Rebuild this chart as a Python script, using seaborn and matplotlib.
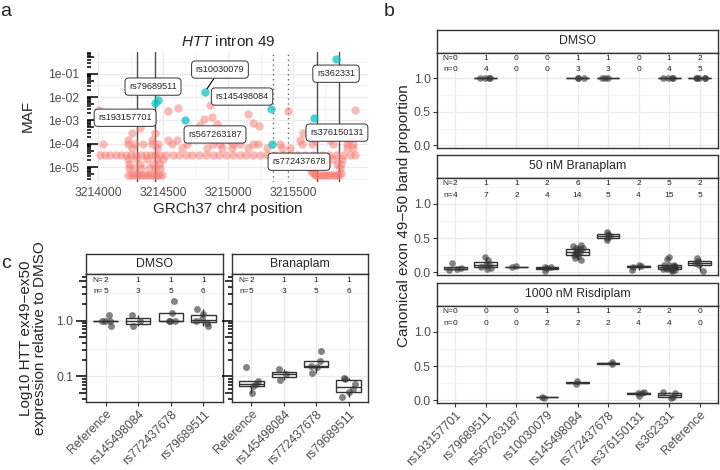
import numpy as np
import pandas as pd
import seaborn as sns
import matplotlib.pyplot as plt
from matplotlib.ticker import FixedLocator, NullFormatter
from matplotlib.transforms import offset_copy

sns.set_style("white")
plt.rcParams["font.family"] = ["Liberation Sans", "DejaVu Sans"]
plt.rcParams["mathtext.fontset"] = "custom"
plt.rcParams["mathtext.it"] = "Liberation Sans:italic"
plt.rcParams["mathtext.rm"] = "Liberation Sans"
np.random.seed(7)

# ---------------- panel a: intron 49 variants ----------------
maf_levels = [4.4e-6, 9e-6, 1.4e-5, 2.2e-5, 3.4e-5, 6.5e-5, 1e-4, 1.5e-4, 2.9e-4]
row_pos = [
    [3214230, 3214252, 3214274, 3214296, 3214318, 3214340, 3214362, 3214384, 3214406, 3214428,
     3214450, 3214472, 3214494, 3215680, 3215700, 3215720, 3215740, 3215760, 3215780, 3215800,
     3215820, 3215840],
    [3214240, 3214280, 3214330, 3214390, 3214440, 3214480, 3215645, 3215860],
    [3214235, 3214320, 3214420, 3214470, 3215700, 3215765, 3215835, 3215872],
    [3214232, 3214290, 3214380, 3214455, 3214500, 3215655, 3215740, 3215810, 3215880],
    [3214015, 3214055, 3214095, 3214135, 3214175, 3214215, 3214250, 3214290, 3214330, 3214370,
     3214405, 3214440, 3214475, 3214525, 3214575, 3214625, 3214680, 3214720, 3214775, 3214830,
     3214885, 3214930, 3214985, 3215040, 3215090, 3215140, 3215190, 3215245, 3215300, 3215360,
     3215420, 3215475, 3215530, 3215590, 3215650, 3215720, 3215780, 3215830, 3215885, 3215935,
     3215975],
    [3214259, 3214451, 3214644, 3214836, 3214951, 3215028, 3215156, 3215297, 3215413, 3215477,
     3215913, 3215964],
    [3214041, 3214233, 3214285, 3214349, 3214413, 3214464, 3214567, 3214682, 3214887, 3214938,
     3215041, 3215092, 3215195, 3215233, 3215400, 3215567, 3215644, 3215810, 3215913, 3215964],
    [3214233, 3214413, 3214541, 3214605, 3215010, 3215554, 3215669, 3215785, 3215930],
    [3214260, 3214440, 3215580, 3215880],
]
extra_pos = [3215635, 3215655, 3215672, 3215852, 3215866, 3214010, 3214015, 3214182, 3214325,
             3214541, 3214618, 3214862, 3214785, 3214815, 3214874, 3214913, 3215095, 3215156,
             3215190, 3215241, 3215464, 3215977]
extra_maf = [6.5e-6, 5.5e-6, 4.8e-6, 4.8e-6, 5.6e-6, 2.9e-3, 1.0e-3, 1.0e-3, 4.8e-4,
             2.5e-3, 3.3e-3, 4.6e-3, 6.6e-4, 1.1e-3, 1.4e-3, 7e-4, 1.7e-2, 1.9e-3,
             7.7e-4, 5.5e-4, 2.6e-3, 2.7e-3]
tested_pos = [3214438, 3214459, 3214669, 3214820, 3215328, 3215336, 3215662, 3215831]
tested_maf = [0.0056, 0.0078, 1.0e-3, 0.016, 3.2e-3, 1.0e-4, 1.3e-3, 0.42]
solid_lines = [3214300, 3214438, 3215685, 3215854]
dotted_lines = [3215346, 3215462]

# label placement (layout, not data)
label_names = ["rs193157701", "rs79689511", "rs145498084", "rs567263187",
               "rs772437678", "rs362331", "rs376150131"]
label_x = [3214208, 3214423, 3215108, 3214900, 3215546, 3215831, 3215838]
label_y = [1.3e-3, 0.028, 0.0105, 2.5e-4, 1.7e-5, 0.1, 3e-4]

# ---------------- panel b: band proportions ----------------
b_cats = ["rs193157701", "rs79689511", "rs567263187", "rs10030079", "rs145498084",
          "rs772437678", "rs376150131", "rs362331", "Reference"]
b_treat = ["DMSO", "50 nM Branaplam", "1000 nM Risdiplam"]
b_N = [[0, 1, 0, 0, 1, 1, 0, 1, 2],
       [2, 1, 1, 2, 6, 1, 2, 5, 2],
       [0, 0, 0, 1, 1, 1, 2, 2, 0]]
b_n = [[0, 4, 0, 0, 3, 3, 0, 4, 5],
       [4, 7, 2, 4, 14, 5, 4, 15, 5],
       [0, 0, 0, 2, 2, 2, 4, 4, 0]]
dmso_b = {
    "rs79689511": [1.0, 1.0, 1.0, 1.0],
    "rs145498084": [1.0, 1.0, 1.0],
    "rs772437678": [1.0, 1.0, 1.0],
    "rs362331": [1.0, 1.0, 1.0, 1.0],
    "Reference": [1.0, 1.0, 1.0, 1.0, 1.0],
}
bran_b = {
    "rs193157701": [0.03, 0.05, 0.06, 0.13],
    "rs79689511": [0.05, 0.06, 0.08, 0.10, 0.12, 0.18, 0.23],
    "rs567263187": [0.075, 0.085],
    "rs10030079": [0.02, 0.065, 0.07, 0.08],
    "rs145498084": [0.18, 0.21, 0.24, 0.25, 0.27, 0.28, 0.29, 0.30, 0.32, 0.34, 0.35, 0.36,
                    0.38, 0.40],
    "rs772437678": [0.47, 0.50, 0.53, 0.56, 0.59],
    "rs376150131": [0.04, 0.08, 0.09, 0.11],
    "rs362331": [0.02, 0.03, 0.04, 0.045, 0.05, 0.06, 0.065, 0.07, 0.08, 0.09, 0.10, 0.10,
                 0.11, 0.19, 0.22],
    "Reference": [0.02, 0.10, 0.14, 0.17, 0.21],
}
risd_b = {
    "rs10030079": [0.04, 0.05],
    "rs145498084": [0.24, 0.28],
    "rs772437678": [0.53, 0.56],
    "rs376150131": [0.06, 0.10, 0.10, 0.12],
    "rs362331": [0.04, 0.05, 0.10, 0.12],
}

# ---------------- panel c: expression ----------------
c_cats = ["Reference", "rs145498084", "rs772437678", "rs79689511"]
c_treat = ["DMSO", "Branaplam"]
c_N = [2, 1, 1, 1]
c_n = [5, 3, 5, 6]
dmso_c = {
    "Reference": [0.81, 1.0, 1.0, 1.0, 1.26],
    "rs145498084": [0.80, 0.97, 1.26],
    "rs772437678": [0.98, 1.0, 1.0, 1.38, 2.28],
    "rs79689511": [0.80, 0.92, 1.0, 1.06, 1.3, 1.6],
}
bran_c = {
    "Reference": [0.05, 0.067, 0.073, 0.083, 0.147],
    "rs145498084": [0.087, 0.11, 0.136],
    "rs772437678": [0.115, 0.15, 0.155, 0.19, 0.288],
    "rs79689511": [0.043, 0.052, 0.06, 0.072, 0.09, 0.094],
}

W, H = 720, 470
fig = plt.figure(figsize=(7.2, 4.7), dpi=100)
grid_c = "#EBEBEB"
edge_c = "#333333"
tick_c = "#4D4D4D"
pt_c = "#333333"


def add_ax(l, t, r, b):
    return fig.add_axes([l / W, 1 - b / H, (r - l) / W, (b - t) / H])


def strip(l, t, r, b, label):
    s = add_ax(l, t, r, b)
    s.set_xticks([])
    s.set_yticks([])
    s.set_facecolor("white")
    for sp in s.spines.values():
        sp.set_color(edge_c)
        sp.set_linewidth(1.0)
    s.text(0.5, 0.5, label, ha="center", va="center", fontsize=8.8, transform=s.transAxes)
    return s


def logticks(ax, vmin, vmax, width_px, inside):
    for d in range(-7, 2):
        for k in range(1, 10):
            v = k * 10.0 ** d
            if v < vmin or v > vmax:
                continue
            L = 10.5 if k == 1 else (7 if k == 5 else 4)
            f = L / width_px
            xs = [0, f] if inside else [-f, 0]
            ax.plot(xs, [v, v], transform=ax.get_yaxis_transform(), color="black", lw=1.1,
                    solid_capstyle="butt", clip_on=False, zorder=6)


def count_labels(ax, Ns, ns, yN, yn):
    off = offset_copy(ax.transData, fig=fig, x=-1.8, units="points")
    for j, (N, n) in enumerate(zip(Ns, ns)):
        ax.text(j, yN, str(N), ha="center", va="center", fontsize=6.0)
        ax.text(j, yn, str(n), ha="center", va="center", fontsize=6.0)
    ax.text(0, yN, "N=", transform=off, ha="right", va="center", fontsize=6.0)
    ax.text(0, yn, "n=", transform=off, ha="right", va="center", fontsize=6.0)


def long_df(d, col):
    return pd.DataFrame([(k, v) for k, lst in d.items() for v in lst], columns=["snp", col])


# ---------------- draw panel a ----------------
axa = add_ax(87, 52, 368, 182)
bg_pos, bg_maf = [], []
for lvl, plist in zip(maf_levels, row_pos):
    bg_pos += plist
    bg_maf += [lvl] * len(plist)
bg_pos += extra_pos
bg_maf += extra_maf
df_bg = pd.DataFrame({"pos": bg_pos, "maf": bg_maf})
df_t = pd.DataFrame({"pos": tested_pos, "maf": tested_maf})
axa.set_yscale("log")
for x in solid_lines:
    axa.axvline(x, color="#4D4D4D", lw=1.0, zorder=1.5)
for x in dotted_lines:
    axa.axvline(x, color="#666666", lw=1.0, ls=(0, (1, 2.5)), zorder=1.5)
sns.scatterplot(data=df_bg, x="pos", y="maf", color="#F8766D", s=36, alpha=0.5,
                linewidth=0, ax=axa, zorder=2)
sns.scatterplot(data=df_t, x="pos", y="maf", color="#00BFC4", s=36, alpha=0.7,
                linewidth=0, ax=axa, zorder=3)
axa.set_xlim(3213915, 3216077)
axa.set_ylim(2.3e-6, 0.85)
axa.xaxis.set_major_locator(FixedLocator([3214000, 3214500, 3215000, 3215500]))
axa.set_xticklabels(["3214000", "3214500", "3215000", "3215500"])
axa.xaxis.set_minor_locator(FixedLocator([3214250, 3214750, 3215250, 3215750]))
axa.yaxis.set_major_locator(FixedLocator([1e-5, 1e-4, 1e-3, 1e-2, 1e-1]))
axa.set_yticklabels(["1e-05", "1e-04", "1e-03", "1e-02", "1e-01"])
axa.yaxis.set_minor_locator(FixedLocator([10 ** -5.5, 10 ** -4.5, 10 ** -3.5, 10 ** -2.5,
                                          10 ** -1.5, 10 ** -0.5]))
axa.yaxis.set_minor_formatter(NullFormatter())
axa.grid(which="major", color=grid_c, lw=1.0)
axa.grid(which="minor", color="#F3F3F3", lw=0.6)
axa.set_axisbelow(True)
for sp in axa.spines.values():
    sp.set_visible(False)
axa.tick_params(axis="both", which="both", length=0, labelsize=8.8, labelcolor=tick_c)
axa.tick_params(axis="y", pad=5.8)
axa.tick_params(axis="x", pad=3.5)
axa.set_xlabel("")
axa.set_ylabel("")
logticks(axa, 2.3e-6, 0.85, 281, inside=True)
bbox_kw = dict(boxstyle="round,pad=0.45,rounding_size=0.4", fc="white", ec=edge_c, lw=0.7)
for name, x, y in zip(label_names, label_x, label_y):
    axa.text(x, y, name, fontsize=6.6, ha="center", va="center", bbox=bbox_kw, zorder=7)
axa.annotate("rs10030079", xy=(tested_pos[3], tested_maf[3]), xytext=(3214938, 0.15),
             fontsize=6.6, ha="center", va="center", bbox=bbox_kw, zorder=7,
             arrowprops=dict(arrowstyle="-", color="black", lw=0.8, shrinkA=0, shrinkB=3))
fig.text(228 / W, 1 - 42 / H, r"$\it{HTT}$ intron 49", ha="center", va="center", fontsize=11)
fig.text(228 / W, 1 - 209 / H, "GRCh37 chr4 position", ha="center", va="center", fontsize=11)
fig.text(28 / W, 1 - 116 / H, "MAF", ha="center", va="center", fontsize=11, rotation=90)

# ---------------- draw panel b ----------------
b_layout = [(30, 53, 148), (155, 178, 275), (283, 306, 403)]
for i, (treat, vals) in enumerate(zip(b_treat, [dmso_b, bran_b, risd_b])):
    st, pt, pb = b_layout[i]
    strip(437, st, 718, pt, treat)
    ax = add_ax(437, pt, 718, pb)
    df = long_df(vals, "prop")
    sns.boxplot(data=df, x="snp", y="prop", order=b_cats, color="white", linecolor=edge_c,
                linewidth=1.0, width=0.75, showfliers=False, showcaps=False, ax=ax)
    sns.stripplot(data=df, x="snp", y="prop", order=b_cats, color=pt_c, alpha=0.6, size=4.8,
                  jitter=0.22, linewidth=0, ax=ax)
    ax.set_xlim(-0.6, 8.6)
    ax.set_ylim(-0.04, 1.38)
    ax.yaxis.set_major_locator(FixedLocator([0, 0.5, 1.0]))
    ax.set_yticklabels(["0.0", "0.5", "1.0"])
    ax.yaxis.set_minor_locator(FixedLocator([0.25, 0.75, 1.25]))
    ax.grid(which="major", color=grid_c, lw=1.0)
    ax.grid(which="minor", axis="y", color="#F3F3F3", lw=0.6)
    ax.set_axisbelow(True)
    for sp in ax.spines.values():
        sp.set_color(edge_c)
        sp.set_linewidth(1.0)
    ax.tick_params(axis="y", which="major", length=3, width=0.8, color=edge_c,
                   labelsize=8.8, labelcolor=tick_c, pad=1.5, left=True)
    ax.tick_params(axis="y", which="minor", length=0)
    if i < 2:
        ax.tick_params(axis="x", length=0, labelbottom=False)
    else:
        ax.tick_params(axis="x", length=3, width=0.8, color=edge_c, labelsize=8.8,
                       labelcolor=tick_c, pad=1.5, bottom=True)
        for lab in ax.get_xticklabels():
            lab.set_rotation(45)
            lab.set_ha("right")
            lab.set_rotation_mode("anchor")
    ax.set_xlabel("")
    ax.set_ylabel("")
    count_labels(ax, b_N[i], b_n[i], 1.30, 1.13)
fig.text(404 / W, 1 - 216 / H, "Canonical exon 49\u221250 band proportion", ha="center",
         va="center", fontsize=11, rotation=90)

# ---------------- draw panel c ----------------
c_layout = [(86, 223), (232, 368)]
for i, (treat, vals) in enumerate(zip(c_treat, [dmso_c, bran_c])):
    l, r = c_layout[i]
    strip(l, 254, r, 274, treat)
    ax = add_ax(l, 274, r, 402)
    df = long_df(vals, "expr")
    sns.boxplot(data=df, x="snp", y="expr", order=c_cats, color="white", linecolor=edge_c,
                linewidth=1.0, width=0.75, showfliers=False, showcaps=False,
                log_scale=(False, True), ax=ax)
    sns.stripplot(data=df, x="snp", y="expr", order=c_cats, color=pt_c, alpha=0.6, size=5.0,
                  jitter=0.22, linewidth=0, ax=ax)
    ax.set_xlim(-0.6, 3.6)
    ax.set_ylim(0.035, 6.8)
    ax.yaxis.set_major_locator(FixedLocator([0.1, 1.0]))
    ax.yaxis.set_minor_locator(FixedLocator([10 ** -0.5, 10 ** 0.5]))
    ax.yaxis.set_minor_formatter(NullFormatter())
    if i == 0:
        ax.set_yticklabels(["0.1", "1.0"])
    else:
        ax.set_yticklabels(["", ""])
    ax.grid(which="major", color=grid_c, lw=1.0)
    ax.grid(which="minor", axis="y", color="#F3F3F3", lw=0.6)
    ax.set_axisbelow(True)
    for sp in ax.spines.values():
        sp.set_color(edge_c)
        sp.set_linewidth(1.0)
    ax.tick_params(axis="y", which="both", length=0, labelsize=8.8, labelcolor=tick_c, pad=9)
    ax.tick_params(axis="x", length=3, width=0.8, color=edge_c, labelsize=8.8,
                   labelcolor=tick_c, pad=1.5, bottom=True)
    for lab in ax.get_xticklabels():
        lab.set_rotation(45)
        lab.set_ha("right")
        lab.set_rotation_mode("anchor")
    ax.set_xlabel("")
    ax.set_ylabel("")
    logticks(ax, 0.035, 6.8, r - l, inside=False)
    count_labels(ax, c_N, c_n, 5.1, 3.25)
fig.text(33 / W, 1 - 338 / H, "Log10 HTT ex49\u2212ex50\nexpression relative to DMSO",
         ha="center", va="center", fontsize=11, rotation=90, linespacing=1.05)

# panel letters
fig.text(6 / W, 1 - 12 / H, "a", ha="center", va="center", fontsize=14)
fig.text(389 / W, 1 - 12 / H, "b", ha="center", va="center", fontsize=14)
fig.text(6 / W, 1 - 264 / H, "c", ha="center", va="center", fontsize=14)

fig.savefig("out.png", dpi=100)
